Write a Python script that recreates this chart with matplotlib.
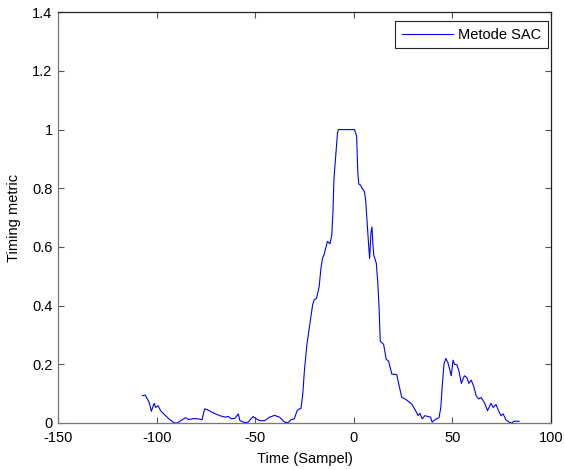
import numpy as np
import matplotlib.pyplot as plt

# ============================================================
# Data
# ============================================================
time_samples = [
    -107.2, -105.8, -103.8, -102.7, -101.3, -100.5, -99.3, -98.0, -95.5, -93.8,
    -91.3, -89.6, -87.1, -85.4, -83.7, -81.2, -78.7, -77.0, -75.7, -74.5,
    -72.0, -69.5, -67.0, -65.3, -63.6, -62.0, -60.3, -58.6, -57.8, -55.3,
    -53.6, -51.1, -49.4, -47.7, -45.2, -42.7, -40.2, -37.7, -35.2, -33.5,
    -31.8, -30.2, -28.8, -27.6, -26.8, -25.9, -25.1, -23.8, -22.6, -20.9,
    -20.1, -18.9, -17.6, -16.7, -15.9, -15.1, -13.9, -13.4, -12.1, -11.2,
    -10.6, -10.1, -9.2, -8.3, -7.8, 0.35, 1.4, 2.0, 2.5, 3.4,
    4.2, 5.4, 6.0, 6.7, 7.5, 8.0, 8.7, 9.2, 9.7, 10.1,
    11.4, 12.1, 12.8, 13.4, 15.1, 16.4, 17.6, 19.3, 20.9, 21.8,
    22.6, 24.3, 26.0, 27.6, 29.3, 31.0, 32.6, 33.5, 34.7, 36.0,
    37.7, 38.9, 39.7, 41.1, 43.2, 44.1, 44.9, 45.7, 46.6, 47.7,
    48.6, 49.4, 50.3, 51.1, 52.3, 53.3, 54.5, 55.3, 56.1, 57.3,
    58.3, 59.5, 60.7, 62.0, 63.3, 64.5, 66.2, 67.8, 69.5, 70.7,
    72.1, 73.4, 74.6, 75.7, 77.1, 78.7, 80.1, 81.3, 83.8,
]
timing_metric = [
    0.093, 0.095, 0.070, 0.040, 0.067, 0.053, 0.059, 0.042, 0.025, 0.014,
    0.001, 0.000, 0.011, 0.018, 0.012, 0.015, 0.014, 0.011, 0.048, 0.046,
    0.037, 0.029, 0.023, 0.020, 0.022, 0.014, 0.016, 0.031, 0.008, 0.001,
    0.003, 0.022, 0.014, 0.008, 0.008, 0.020, 0.026, 0.020, 0.003, 0.001,
    0.011, 0.014, 0.042, 0.048, 0.050, 0.099, 0.177, 0.268, 0.324, 0.403,
    0.420, 0.425, 0.465, 0.527, 0.561, 0.574, 0.606, 0.619, 0.611, 0.640,
    0.718, 0.831, 0.910, 0.989, 1.000, 1.000, 0.978, 0.854, 0.814, 0.811,
    0.800, 0.788, 0.758, 0.685, 0.606, 0.561, 0.651, 0.668, 0.606, 0.572,
    0.544, 0.482, 0.391, 0.279, 0.268, 0.217, 0.211, 0.166, 0.166, 0.164,
    0.138, 0.087, 0.082, 0.074, 0.065, 0.046, 0.025, 0.033, 0.014, 0.025,
    0.022, 0.020, 0.003, 0.011, 0.018, 0.053, 0.133, 0.200, 0.220, 0.206,
    0.183, 0.161, 0.214, 0.200, 0.198, 0.177, 0.135, 0.149, 0.161, 0.155,
    0.135, 0.146, 0.127, 0.093, 0.082, 0.087, 0.070, 0.042, 0.067, 0.053,
    0.063, 0.042, 0.025, 0.031, 0.011, 0.003, 0.000, 0.006, 0.006,
]
x_ticks = [-150, -100, -50, 0, 50, 100]
y_ticks = [0, 0.2, 0.4, 0.6, 0.8, 1, 1.2, 1.4]
y_tick_labels = ['0', '0.2', '0.4', '0.6', '0.8', '1', '1.2', '1.4']

# ============================================================
# Plot (MATLAB-like look)
# ============================================================
plt.rcParams['font.family'] = ['Liberation Sans', 'DejaVu Sans']
plt.rcParams['axes.unicode_minus'] = False

fig = plt.figure(figsize=(5.64, 4.70), dpi=100)
ax = fig.add_axes([0.103, 0.100, 0.874, 0.874])

ax.plot(time_samples, timing_metric, color='#0000ff', linewidth=0.8,
        label='Metode SAC')

ax.set_xlim(-150, 100)
ax.set_ylim(0, 1.4)
ax.set_xticks(x_ticks)
ax.set_yticks(y_ticks)
ax.set_yticklabels(y_tick_labels)
ax.set_xlabel('Time (Sampel)', fontsize=10.5, labelpad=5)
ax.set_ylabel('Timing metric', fontsize=10.5, labelpad=8)

# ticks inside on all four sides
ax.tick_params(direction='in', length=4, width=0.8, color='#555555',
               labelsize=10.5, top=True, right=True)
ax.tick_params(axis='x', pad=6)
ax.tick_params(axis='y', pad=4)
for side in ['left', 'bottom']:
    ax.spines[side].set_color('#777777')
for side in ['top', 'right']:
    ax.spines[side].set_color('#222222')
for sp in ax.spines.values():
    sp.set_linewidth(0.9)

leg = ax.legend(loc='upper right', bbox_to_anchor=(0.994, 0.978),
                borderaxespad=0, fontsize=10.5, fancybox=False,
                handlelength=3.5, handletextpad=0.4, framealpha=1,
                borderpad=0.45)
leg.get_frame().set_edgecolor('#222222')
leg.get_frame().set_linewidth(0.8)

fig.savefig('out.png', dpi=100)
